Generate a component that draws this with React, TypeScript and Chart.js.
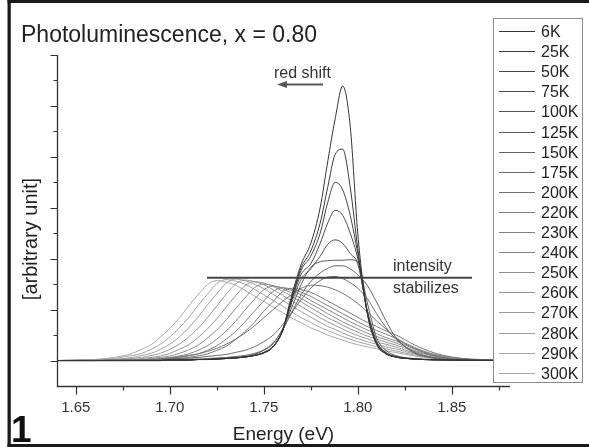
import { useEffect, useRef } from 'react';
import { Chart, registerables } from 'chart.js';

Chart.register(...registerables);

// Shared energy grid (eV)
const energy = [1.64, 1.66, 1.67, 1.68, 1.685, 1.69, 1.695, 1.70, 1.705, 1.71, 1.715, 1.72, 1.725, 1.73, 1.735, 1.74, 1.745, 1.75, 1.755, 1.76, 1.765, 1.77, 1.775, 1.78, 1.784, 1.788, 1.792, 1.796, 1.80, 1.805, 1.81, 1.815, 1.82, 1.83, 1.84, 1.85, 1.86, 1.88];

const temps = ['6K', '25K', '50K', '75K', '100K', '125K', '150K', '175K', '200K', '220K', '230K', '240K', '250K', '260K', '270K', '280K', '290K', '300K'];

const s6K = [0, 0, 0, 0, 0, 0, 0, 0.01, 0.01, 0.01, 0.02, 0.02, 0.03, 0.04, 0.05, 0.07, 0.10, 0.15, 0.27, 0.6, 1.3, 1.9, 2.3, 3.0, 3.9, 4.75, 5.39, 4.6, 2.5, 0.95, 0.32, 0.13, 0.07, 0.03, 0.015, 0.01, 0.005, 0];
const s25K = [0, 0, 0, 0, 0, 0, 0, 0.01, 0.01, 0.01, 0.02, 0.02, 0.03, 0.04, 0.05, 0.07, 0.10, 0.15, 0.27, 0.58, 1.25, 1.83, 2.15, 2.7, 3.4, 4.05, 4.15, 3.4, 2.2, 0.95, 0.33, 0.14, 0.07, 0.03, 0.015, 0.01, 0.005, 0];
const s50K = [0, 0, 0, 0, 0, 0, 0, 0.01, 0.01, 0.01, 0.02, 0.02, 0.03, 0.04, 0.05, 0.07, 0.10, 0.15, 0.27, 0.58, 1.22, 1.78, 2.05, 2.5, 3.1, 3.5, 3.35, 2.85, 2.1, 0.95, 0.34, 0.14, 0.07, 0.03, 0.015, 0.01, 0.005, 0];
const s75K = [0, 0, 0, 0, 0, 0, 0, 0.01, 0.01, 0.01, 0.02, 0.02, 0.03, 0.04, 0.05, 0.07, 0.10, 0.16, 0.28, 0.58, 1.2, 1.7, 1.9, 2.3, 2.7, 2.95, 2.85, 2.5, 2.0, 0.97, 0.36, 0.15, 0.08, 0.03, 0.015, 0.01, 0.005, 0];
const s100K = [0, 0, 0, 0, 0, 0, 0, 0.01, 0.01, 0.01, 0.02, 0.02, 0.03, 0.04, 0.05, 0.07, 0.10, 0.16, 0.28, 0.58, 1.15, 1.6, 1.8, 2.05, 2.28, 2.37, 2.3, 2.1, 1.9, 1.0, 0.38, 0.16, 0.08, 0.03, 0.015, 0.01, 0.005, 0];
const s125K = [0, 0, 0, 0, 0, 0, 0, 0.01, 0.01, 0.02, 0.02, 0.03, 0.04, 0.05, 0.06, 0.08, 0.12, 0.20, 0.33, 0.62, 1.05, 1.50, 1.83, 1.94, 1.96, 1.97, 1.97, 1.98, 1.93, 1.15, 0.45, 0.20, 0.10, 0.04, 0.02, 0.01, 0.005, 0];
const s150K = [0, 0, 0, 0, 0, 0.01, 0.01, 0.02, 0.02, 0.03, 0.03, 0.04, 0.05, 0.06, 0.08, 0.10, 0.14, 0.21, 0.35, 0.60, 0.95, 1.30, 1.55, 1.72, 1.81, 1.86, 1.86, 1.80, 1.68, 1.48, 1.15, 0.78, 0.47, 0.15, 0.05, 0.015, 0.005, 0];
const s175K = [0, 0, 0.01, 0.01, 0.015, 0.02, 0.025, 0.03, 0.04, 0.05, 0.06, 0.08, 0.10, 0.12, 0.16, 0.20, 0.27, 0.37, 0.50, 0.70, 0.95, 1.20, 1.42, 1.57, 1.64, 1.65, 1.61, 1.53, 1.42, 1.22, 0.92, 0.65, 0.43, 0.17, 0.06, 0.02, 0.005, 0];
const s200K = [0, 0, 0.005, 0.01, 0.01, 0.02, 0.03, 0.05, 0.07, 0.10, 0.13, 0.18, 0.24, 0.32, 0.42, 0.54, 0.68, 0.84, 1.00, 1.16, 1.30, 1.42, 1.48, 1.47, 1.44, 1.39, 1.32, 1.23, 1.12, 0.96, 0.78, 0.62, 0.45, 0.24, 0.10, 0.03, 0.01, 0];
const s220K = [0, 0, 0, 0, 0.01, 0.01, 0.01, 0.02, 0.04, 0.06, 0.09, 0.13, 0.20, 0.28, 0.41, 0.57, 0.75, 0.97, 1.16, 1.35, 1.42, 1.39, 1.34, 1.25, 1.17, 1.09, 1.01, 0.93, 0.85, 0.75, 0.67, 0.58, 0.51, 0.31, 0.16, 0.07, 0.03, 0];
const s230K = [0, 0, 0, 0.01, 0.01, 0.01, 0.02, 0.04, 0.06, 0.09, 0.13, 0.20, 0.29, 0.42, 0.57, 0.76, 0.97, 1.17, 1.36, 1.43, 1.40, 1.34, 1.26, 1.16, 1.08, 1.00, 0.92, 0.84, 0.76, 0.67, 0.59, 0.52, 0.44, 0.26, 0.13, 0.06, 0.02, 0];
const s240K = [0, 0, 0.01, 0.01, 0.02, 0.02, 0.04, 0.06, 0.09, 0.13, 0.20, 0.29, 0.42, 0.58, 0.77, 0.99, 1.20, 1.39, 1.46, 1.43, 1.37, 1.29, 1.18, 1.08, 1.00, 0.92, 0.84, 0.76, 0.69, 0.60, 0.53, 0.45, 0.39, 0.23, 0.12, 0.05, 0.02, 0];
const s250K = [0, 0, 0.01, 0.02, 0.02, 0.04, 0.06, 0.09, 0.14, 0.21, 0.30, 0.44, 0.60, 0.80, 1.02, 1.23, 1.43, 1.50, 1.47, 1.41, 1.32, 1.22, 1.11, 1.01, 0.92, 0.84, 0.76, 0.69, 0.62, 0.54, 0.47, 0.41, 0.35, 0.20, 0.10, 0.05, 0.02, 0];
const s260K = [0, 0.01, 0.01, 0.02, 0.04, 0.06, 0.09, 0.14, 0.22, 0.31, 0.45, 0.62, 0.82, 1.05, 1.27, 1.47, 1.55, 1.52, 1.46, 1.36, 1.26, 1.15, 1.04, 0.93, 0.84, 0.77, 0.69, 0.62, 0.56, 0.48, 0.42, 0.36, 0.31, 0.18, 0.09, 0.04, 0.02, 0];
const s270K = [0, 0.01, 0.02, 0.04, 0.06, 0.10, 0.14, 0.22, 0.32, 0.46, 0.63, 0.84, 1.07, 1.30, 1.50, 1.58, 1.55, 1.49, 1.39, 1.28, 1.17, 1.06, 0.95, 0.84, 0.76, 0.69, 0.62, 0.55, 0.49, 0.43, 0.36, 0.32, 0.27, 0.15, 0.07, 0.03, 0.01, 0];
const s280K = [0, 0.01, 0.02, 0.06, 0.10, 0.14, 0.22, 0.32, 0.46, 0.64, 0.85, 1.09, 1.31, 1.52, 1.60, 1.57, 1.50, 1.41, 1.30, 1.18, 1.07, 0.96, 0.85, 0.75, 0.67, 0.61, 0.54, 0.48, 0.43, 0.37, 0.32, 0.27, 0.23, 0.13, 0.06, 0.03, 0.01, 0];
const s290K = [0, 0.02, 0.04, 0.10, 0.14, 0.22, 0.32, 0.46, 0.64, 0.84, 1.08, 1.30, 1.51, 1.59, 1.56, 1.50, 1.40, 1.29, 1.18, 1.07, 0.95, 0.84, 0.75, 0.65, 0.59, 0.53, 0.47, 0.42, 0.37, 0.32, 0.27, 0.23, 0.19, 0.11, 0.05, 0.02, 0.01, 0];
const s300K = [0, 0.02, 0.06, 0.14, 0.22, 0.31, 0.46, 0.63, 0.83, 1.07, 1.29, 1.49, 1.57, 1.54, 1.48, 1.38, 1.27, 1.16, 1.05, 0.94, 0.83, 0.74, 0.64, 0.57, 0.50, 0.45, 0.40, 0.35, 0.31, 0.27, 0.23, 0.19, 0.16, 0.09, 0.04, 0.02, 0.01, 0];

const seriesValues = [s6K, s25K, s50K, s75K, s100K, s125K, s150K, s175K, s200K, s220K, s230K, s240K, s250K, s260K, s270K, s280K, s290K, s300K];

const lineColors = ['#333333', '#3a3a3a', '#424242', '#4a4a4a', '#525252', '#5a5a5a', '#626262', '#6a6a6a', '#727272', '#7a7a7a', '#808080', '#868686', '#8c8c8c', '#929292', '#989898', '#9e9e9e', '#a4a4a4', '#aaaaaa'];

const xMajorTicks = [1.65, 1.70, 1.75, 1.80, 1.85];
const xTickLabels = ['1.65', '1.70', '1.75', '1.80', '1.85'];
const xMinorTicks = [1.675, 1.725, 1.775, 1.825, 1.875];
const yMajorTicks = [0, 1, 2, 3, 4, 5, 6];
const yMinorTicks = [0.5, 1.5, 2.5, 3.5, 4.5, 5.5];

const titleText = 'Photoluminescence, x = 0.80';
const xTitle = 'Energy (eV)';
const yTitle = '[arbitrary unit]';
const panelLabel = '1';
const redShiftText = 'red shift';
const stabilizeLines = ['intensity', 'stabilizes'];

const FONT = '"Liberation Sans", Arial, Helvetica, sans-serif';

export default function App() {
  const ref = useRef<HTMLCanvasElement>(null);

  useEffect(() => {
    const canvas = ref.current;
    if (!canvas) return;

    const deco = {
      id: 'deco',
      beforeDraw(chart: any) {
        const ctx = chart.ctx;
        ctx.save();
        ctx.fillStyle = '#ffffff';
        ctx.fillRect(0, 0, chart.width, chart.height);
        ctx.restore();
      },
      afterDraw(chart: any) {
        const ctx = chart.ctx;
        const xs = chart.scales.x;
        const ys = chart.scales.y;
        const ca = chart.chartArea;
        ctx.save();

        // axes
        const x0 = Math.round(ca.left) + 0.5;
        const y0 = Math.round(ca.bottom) + 0.5;
        ctx.strokeStyle = '#333333';
        ctx.lineWidth = 1.3;
        ctx.beginPath();
        ctx.moveTo(x0, ca.top);
        ctx.lineTo(x0, y0);
        ctx.lineTo(ca.right, y0);
        ctx.stroke();

        ctx.lineWidth = 1.2;
        ctx.beginPath();
        yMajorTicks.forEach((v) => {
          const py = Math.round(ys.getPixelForValue(v)) + 0.5;
          ctx.moveTo(x0 - 7, py);
          ctx.lineTo(x0, py);
        });
        yMinorTicks.forEach((v) => {
          const py = Math.round(ys.getPixelForValue(v)) + 0.5;
          ctx.moveTo(x0 - 4, py);
          ctx.lineTo(x0, py);
        });
        xMajorTicks.forEach((v) => {
          const px = Math.round(xs.getPixelForValue(v)) + 0.5;
          ctx.moveTo(px, y0);
          ctx.lineTo(px, y0 + 8);
        });
        xMinorTicks.forEach((v) => {
          const px = Math.round(xs.getPixelForValue(v)) + 0.5;
          ctx.moveTo(px, y0);
          ctx.lineTo(px, y0 + 4);
        });
        ctx.stroke();

        // x tick labels
        ctx.fillStyle = '#333333';
        ctx.font = `15px ${FONT}`;
        ctx.textAlign = 'center';
        ctx.textBaseline = 'alphabetic';
        xMajorTicks.forEach((v, i) => {
          ctx.fillText(xTickLabels[i], xs.getPixelForValue(v), 412);
        });

        // axis titles
        ctx.fillStyle = '#222222';
        ctx.font = `19px ${FONT}`;
        ctx.fillText(xTitle, (ca.left + ca.right) / 2, 440);

        ctx.save();
        ctx.translate(31, 239);
        ctx.rotate(-Math.PI / 2);
        ctx.font = `20px ${FONT}`;
        ctx.textAlign = 'center';
        ctx.textBaseline = 'middle';
        ctx.fillText(yTitle, 0, 0);
        ctx.restore();

        // title
        ctx.textAlign = 'left';
        ctx.textBaseline = 'alphabetic';
        ctx.font = `23px ${FONT}`;
        ctx.fillStyle = '#222222';
        ctx.fillText(titleText, 21, 42);

        // panel label
        ctx.font = `bold 37px ${FONT}`;
        ctx.fillStyle = '#111111';
        ctx.fillText(panelLabel, 11, 442);

        // red shift annotation
        ctx.font = `16px ${FONT}`;
        ctx.fillStyle = '#333333';
        ctx.fillText(redShiftText, 274, 78);
        ctx.strokeStyle = '#555555';
        ctx.lineWidth = 2;
        ctx.beginPath();
        ctx.moveTo(323, 84.5);
        ctx.lineTo(284, 84.5);
        ctx.stroke();
        ctx.fillStyle = '#555555';
        ctx.beginPath();
        ctx.moveTo(277, 84.5);
        ctx.lineTo(287, 81);
        ctx.lineTo(287, 88);
        ctx.closePath();
        ctx.fill();

        // intensity stabilizes annotation
        ctx.strokeStyle = '#444444';
        ctx.lineWidth = 2;
        ctx.beginPath();
        ctx.moveTo(207, 277.7);
        ctx.lineTo(472, 277.7);
        ctx.stroke();
        ctx.fillStyle = '#333333';
        ctx.font = `16px ${FONT}`;
        ctx.fillText(stabilizeLines[0], 393, 271);
        ctx.fillText(stabilizeLines[1], 393, 293);

        // legend
        ctx.fillStyle = '#ffffff';
        ctx.fillRect(493.5, 18.5, 89, 364);
        ctx.strokeStyle = '#8a8a8a';
        ctx.lineWidth = 1;
        ctx.strokeRect(493.5, 18.5, 89, 364);
        ctx.font = `16px ${FONT}`;
        ctx.textBaseline = 'middle';
        temps.forEach((t, i) => {
          const ly = Math.round(31 + i * 20.1) + 0.5;
          ctx.strokeStyle = lineColors[i];
          ctx.lineWidth = 1;
          ctx.beginPath();
          ctx.moveTo(499, ly);
          ctx.lineTo(535, ly);
          ctx.stroke();
          ctx.fillStyle = '#222222';
          ctx.fillText(t, 541, ly + 1);
        });

        // outer frame
        ctx.fillStyle = '#1a1a1a';
        ctx.fillRect(7.5, 0, 589, 3);
        ctx.fillRect(7.5, 444, 589, 3);
        ctx.fillRect(7.5, 0, 3.3, 447);

        ctx.restore();
      },
    };

    const chart = new Chart(canvas, {
      type: 'line',
      data: {
        datasets: temps.map((t, i) => ({
          label: t,
          data: energy.map((e, j) => ({ x: e, y: seriesValues[i][j] })),
          borderColor: lineColors[i],
          backgroundColor: lineColors[i],
          borderWidth: 1,
          pointRadius: 0,
          fill: false,
          cubicInterpolationMode: 'monotone' as const,
        })),
      },
      options: {
        responsive: false,
        animation: false,
        events: [],
        layout: { padding: { left: 57, top: 55, right: 79, bottom: 61 } },
        scales: {
          x: { type: 'linear', min: 1.64, max: 1.881, display: false },
          y: { type: 'linear', min: -0.5, max: 6, display: false },
        },
        plugins: {
          legend: { display: false },
          tooltip: { enabled: false },
          title: { display: false },
        },
      },
      plugins: [deco],
    } as any);

    return () => chart.destroy();
  }, []);

  return (
    <div style={{ position: 'absolute', left: 0, top: 0, width: 589, height: 447, background: '#ffffff' }}>
      <canvas ref={ref} width={589} height={447} style={{ display: 'block', width: 589, height: 447 }} />
    </div>
  );
}
